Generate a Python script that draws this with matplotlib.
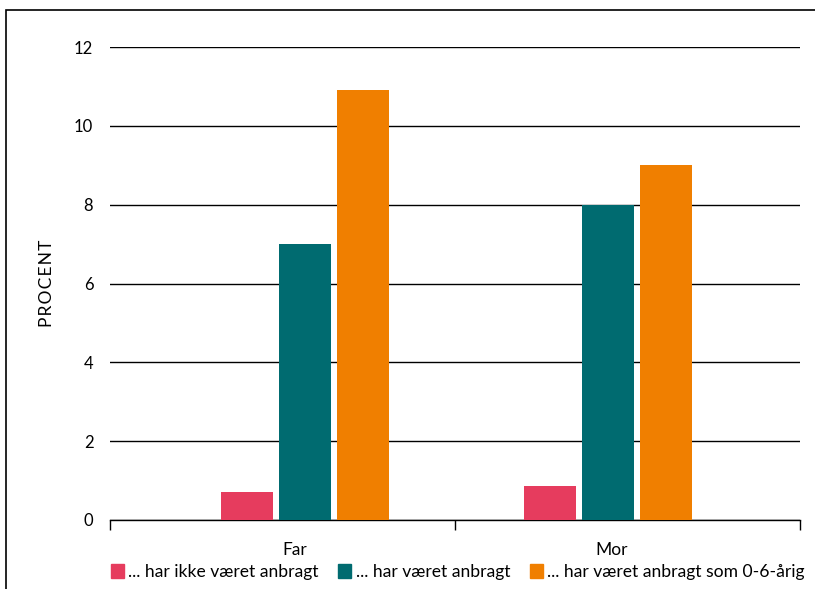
import matplotlib
matplotlib.use("Agg")
import matplotlib.pyplot as plt
from matplotlib.patches import Rectangle, Patch
import numpy as np

# Data
categories = ["Far", "Mor"]
series_names = ["... har ikke været anbragt", "... har været anbragt",
                "... har været anbragt som 0-6-årig"]
ikke_anbragt = [0.7, 0.85]
anbragt = [7.0, 8.0]
anbragt_0_6 = [10.9, 9.0]
colors = ["#E63C5E", "#006B70", "#F07F00"]

plt.rcParams['font.family'] = ['Lato', 'DejaVu Sans']

fig = plt.figure(figsize=(8.15, 5.89), dpi=100)
ax = fig.add_axes([110/815, 1 - 520/589, 690/815, 473/589])

# frame around the figure (top and left visible)
fig.patches.append(Rectangle((6/815, -0.1), 1.2, 1 - 10/589 + 0.1,
                             transform=fig.transFigure, fill=False,
                             edgecolor="black", linewidth=1.2))

centers = np.array([0.565, 1.443])
step = 0.168
width = 0.15
for i, vals in enumerate([ikke_anbragt, anbragt, anbragt_0_6]):
    ax.bar(centers + (i - 1) * step, vals, width, color=colors[i], zorder=3)

ax.set_xlim(0, 2)
ax.set_ylim(0, 12)
ax.set_yticks(range(0, 13, 2))
ax.yaxis.grid(True, color="black", linewidth=1)
ax.set_axisbelow(True)
for s in ["top", "right", "left"]:
    ax.spines[s].set_visible(False)
ax.spines["bottom"].set_linewidth(1)
ax.tick_params(axis="y", length=0, pad=12, labelsize=12)
ax.set_xticks([0, 1, 2])
ax.set_xticklabels([])
ax.tick_params(axis="x", length=7, direction="out", width=1)
for c, lab in zip(centers, categories):
    ax.text(c - 0.03 if lab == "Far" else c + 0.01, -0.75, lab, ha="center",
            va="center", fontsize=12.5)

ax.set_ylabel("P\u200aR\u200aO\u200aC\u200aE\u200aN\u200aT", fontsize=12.5)
ax.yaxis.set_label_coords(-0.08, 0.5)

handles = [Patch(color=c) for c in colors]
fig.legend(handles, series_names, loc="center left",
           bbox_to_anchor=(104/815, 1 - 572/589), ncol=3, frameon=False,
           fontsize=12.6, handlelength=0.75, handleheight=0.85,
           handletextpad=0.25, columnspacing=1.1, borderaxespad=0)

fig.savefig("out.png", dpi=100)
